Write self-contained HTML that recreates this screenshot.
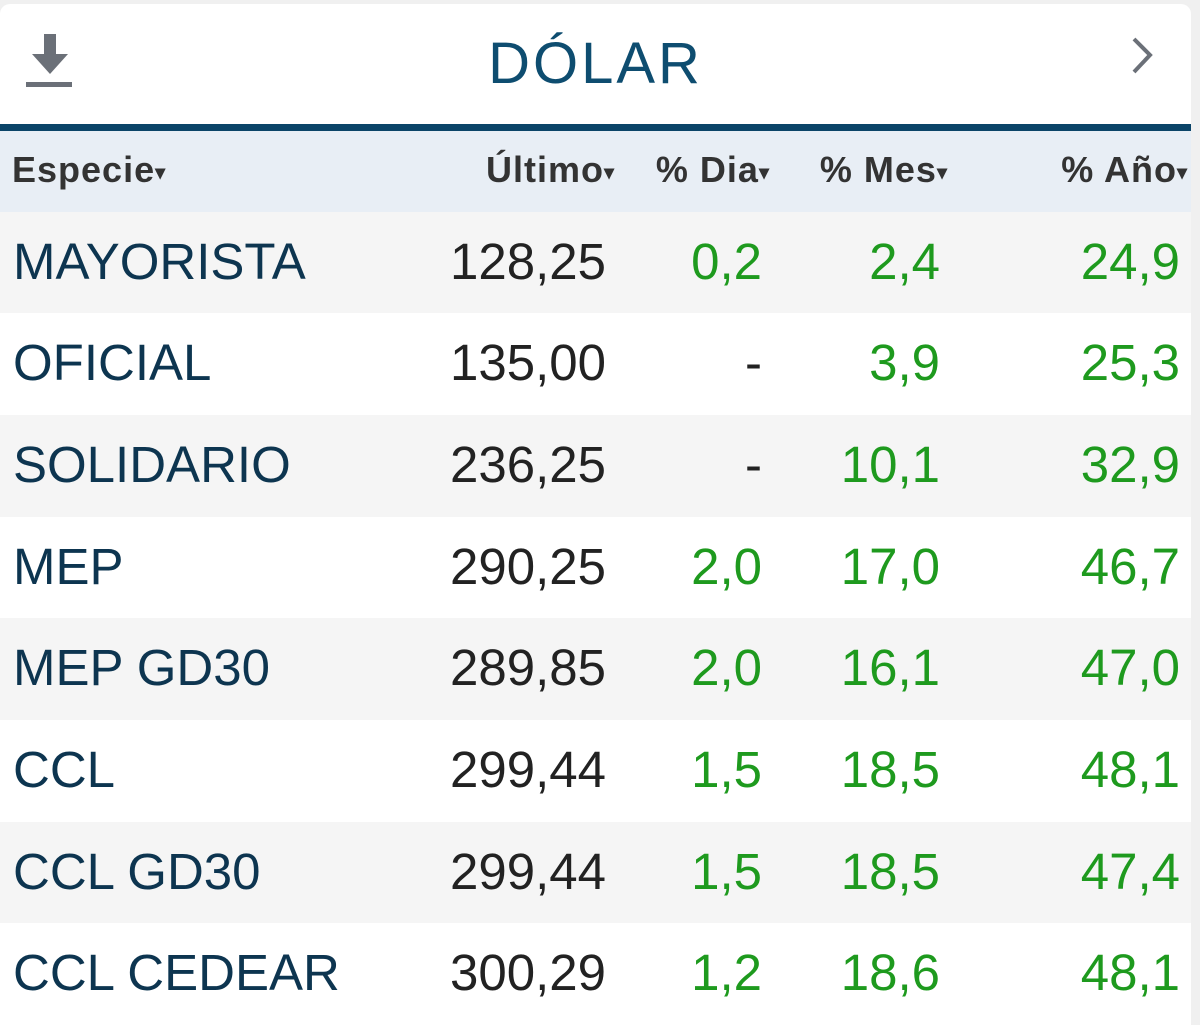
<!DOCTYPE html>
<html><head><meta charset="utf-8"><style>
*{margin:0;padding:0;box-sizing:border-box}
body{width:1200px;height:1023px;background:#f0f0f0;font-family:"Liberation Sans",sans-serif;position:relative;overflow:hidden}
.card{position:absolute;left:0;top:4px;width:1191px;height:1019px;background:#fff;border-radius:10px 10px 0 0}
.title{position:absolute;left:0;width:1191px;top:30px;text-align:center;font-size:58px;color:#0e4d70;letter-spacing:3px}
.bar{position:absolute;left:0;top:124px;width:1191px;height:7px;background:#0b4468}
.hdr{position:absolute;left:0;top:131px;width:1191px;height:81px;background:#e8eef5}
.row{position:absolute;left:0;width:1191px;height:102px}
.t{position:absolute;white-space:nowrap}
.hdr .t{top:18px;font-size:36px;font-weight:bold;color:#333;letter-spacing:1px}
.row .t{top:20px;font-size:51px}
.n{color:#0d3550;left:13px}
.v{color:#222;right:585px}
.g{color:#1e9a1e}
.c1{right:429px}.c2{right:251px}.c3{right:11px}
.tri{font-size:20px;vertical-align:middle}
</style></head><body>
<div class="card">
<svg style="position:absolute;left:26px;top:30px" width="48" height="56" viewBox="0 0 48 56"><rect x="18" y="0" width="12" height="22" fill="#6b7078"/><polygon points="6,20 42,20 24,40" fill="#6b7078"/><rect x="0" y="48" width="46" height="5" fill="#6b7078"/></svg>
<svg style="position:absolute;left:1128px;top:32px" width="30" height="40" viewBox="0 0 30 40"><polyline points="6,3 22,19 6,36" fill="none" stroke="#6b7078" stroke-width="4"/></svg>
</div>
<div class="title">DÓLAR</div>
<div class="bar"></div>
<div class="hdr">
<span class="t" style="left:12px">Especie<span class="tri">▾</span></span>
<span class="t" style="right:576px">Último<span class="tri">▾</span></span>
<span class="t" style="right:421px">% Dia<span class="tri">▾</span></span>
<span class="t" style="right:243px">% Mes<span class="tri">▾</span></span>
<span class="t" style="right:3px">% Año<span class="tri">▾</span></span>
</div>
<div class="row" style="top:212px;background:#f5f5f5"><span class="t n">MAYORISTA</span><span class="t v">128,25</span><span class="t g c1">0,2</span><span class="t g c2">2,4</span><span class="t g c3">24,9</span></div>
<div class="row" style="top:313px;background:#fff"><span class="t n">OFICIAL</span><span class="t v">135,00</span><span class="t c1" style="color:#222">-</span><span class="t g c2">3,9</span><span class="t g c3">25,3</span></div>
<div class="row" style="top:415px;background:#f5f5f5"><span class="t n">SOLIDARIO</span><span class="t v">236,25</span><span class="t c1" style="color:#222">-</span><span class="t g c2">10,1</span><span class="t g c3">32,9</span></div>
<div class="row" style="top:517px;background:#fff"><span class="t n">MEP</span><span class="t v">290,25</span><span class="t g c1">2,0</span><span class="t g c2">17,0</span><span class="t g c3">46,7</span></div>
<div class="row" style="top:618px;background:#f5f5f5"><span class="t n">MEP GD30</span><span class="t v">289,85</span><span class="t g c1">2,0</span><span class="t g c2">16,1</span><span class="t g c3">47,0</span></div>
<div class="row" style="top:720px;background:#fff"><span class="t n">CCL</span><span class="t v">299,44</span><span class="t g c1">1,5</span><span class="t g c2">18,5</span><span class="t g c3">48,1</span></div>
<div class="row" style="top:822px;background:#f5f5f5"><span class="t n">CCL GD30</span><span class="t v">299,44</span><span class="t g c1">1,5</span><span class="t g c2">18,5</span><span class="t g c3">47,4</span></div>
<div class="row" style="top:923px;background:#fff"><span class="t n">CCL CEDEAR</span><span class="t v">300,29</span><span class="t g c1">1,2</span><span class="t g c2">18,6</span><span class="t g c3">48,1</span></div>
</body></html>
